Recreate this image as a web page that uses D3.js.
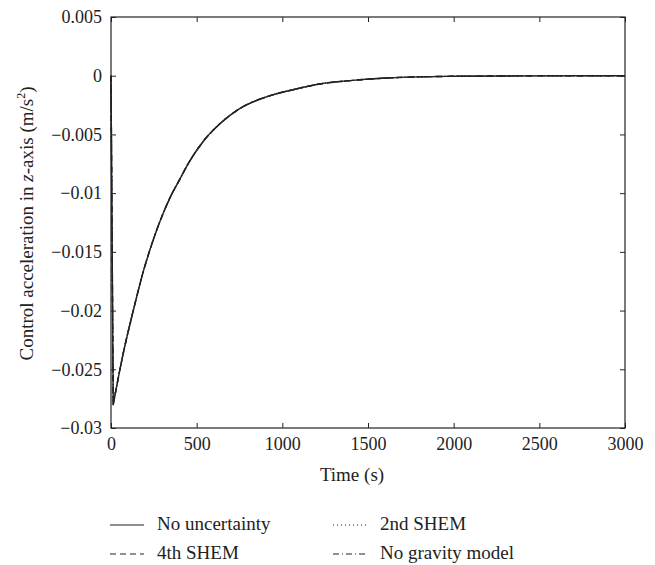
<!DOCTYPE html>
<html>
<head>
<meta charset="utf-8">
<script src="https://cdn.jsdelivr.net/npm/d3@7/dist/d3.min.js"></script>
<style>
  html, body { margin: 0; padding: 0; background: #fff; }
  svg { display: block; }
</style>
</head>
<body>
<svg id="chart" width="655" height="565"></svg>
<script>
// ---- data ----
const timeS = [0, 13, 72, 130, 188, 246, 305, 344, 402, 450, 538, 635, 751, 907, 1081, 1217, 1411, 1605, 1800, 2000, 2500, 3000];
const noUncertainty = [0, -0.0280, -0.0236, -0.0200, -0.0167, -0.0140, -0.0117, -0.0104, -0.0088, -0.0075, -0.0056, -0.0041, -0.0028, -0.0018, -0.00113, -0.00071, -0.0004, -0.0002, -0.0001, -0.00005, -0.00001, 0];
const shem2 = [0, -0.0280, -0.0236, -0.0200, -0.0167, -0.0140, -0.0117, -0.0104, -0.0088, -0.0075, -0.0056, -0.0041, -0.0028, -0.0018, -0.00113, -0.00071, -0.0004, -0.0002, -0.0001, -0.00005, -0.00001, 0];
const shem4 = [0, -0.0280, -0.0236, -0.0200, -0.0167, -0.0140, -0.0117, -0.0104, -0.0088, -0.0075, -0.0056, -0.0041, -0.0028, -0.0018, -0.00113, -0.00071, -0.0004, -0.0002, -0.0001, -0.00005, -0.00001, 0];
const noGravity = [0, -0.0280, -0.0236, -0.0200, -0.0167, -0.0140, -0.0117, -0.0104, -0.0088, -0.0075, -0.0056, -0.0041, -0.0028, -0.0018, -0.00113, -0.00071, -0.0004, -0.0002, -0.0001, -0.00005, -0.00001, 0];
const xTicks = [0, 500, 1000, 1500, 2000, 2500, 3000];
const yTicks = [0.005, 0, -0.005, -0.01, -0.015, -0.02, -0.025, -0.03];
const seriesNames = ["No uncertainty", "2nd SHEM", "4th SHEM", "No gravity model"];

// ---- layout ----
const FONT = "'Liberation Serif', 'DejaVu Serif', serif";
const INK = "#222";
const svg = d3.select("#chart");
const L = 111, R = 625, T = 17, B = 428;
const x = d3.scaleLinear().domain([0, 3000]).range([L, R]);
const y = d3.scaleLinear().domain([-0.03, 0.005]).range([B, T]);

const fmt = v => (v < 0 ? "\u2212" : "") + String(Math.abs(v));

// axes (inward ticks)
const tickLen = 5;
function styleAxis(g) {
  g.attr("font-family", FONT).attr("font-size", 18);
  g.select(".domain").remove();
  g.selectAll(".tick line").attr("stroke", INK);
  g.selectAll(".tick text").attr("fill", INK);
}
svg.append("g").attr("transform", `translate(0,${B})`)
  .call(d3.axisBottom(x).tickValues(xTicks).tickSize(-tickLen).tickPadding(9).tickFormat(d => String(d)))
  .call(styleAxis);
svg.append("g").attr("transform", `translate(0,${T})`)
  .call(d3.axisTop(x).tickValues(xTicks).tickSize(-tickLen).tickFormat(""))
  .call(styleAxis);
svg.append("g").attr("transform", `translate(${L},0)`)
  .call(d3.axisLeft(y).tickValues(yTicks).tickSize(-tickLen).tickPadding(9).tickFormat(fmt))
  .call(styleAxis);
svg.append("g").attr("transform", `translate(${R},0)`)
  .call(d3.axisRight(y).tickValues(yTicks).tickSize(-tickLen).tickFormat(""))
  .call(styleAxis);

// frame
svg.append("rect").attr("x", L).attr("y", T).attr("width", R - L).attr("height", B - T)
  .attr("fill", "none").attr("stroke", INK).attr("stroke-width", 1.2);

// lines: straight drop from t=0 to the minimum, smooth recovery afterwards
const styles = [
  { data: noUncertainty, dash: null },
  { data: shem2, dash: "1,3" },
  { data: shem4, dash: "6,4" },
  { data: noGravity, dash: "6,3,1,3" }
];
const smooth = d3.line().x(d => x(d[0])).y(d => y(d[1])).curve(d3.curveMonotoneX);
styles.forEach(s => {
  const pts = timeS.map((t, i) => [t, s.data[i]]);
  const tail = smooth(pts.slice(1));
  const d = `M${x(pts[0][0])},${y(pts[0][1])}L` + tail.slice(1);
  svg.append("path")
    .attr("d", d)
    .attr("fill", "none")
    .attr("stroke", INK)
    .attr("stroke-width", 1.4)
    .attr("stroke-linejoin", "round")
    .attr("stroke-dasharray", s.dash);
});

// axis labels
svg.append("text").attr("x", 352).attr("y", 481).attr("text-anchor", "middle")
  .attr("font-family", FONT).attr("fill", INK)
  .attr("font-size", 19).text("Time (s)");
const yl = svg.append("text").attr("transform", `translate(33,${(T + B) / 2 + 1}) rotate(-90)`)
  .attr("text-anchor", "middle").attr("font-size", 19)
  .attr("font-family", FONT).attr("fill", INK);
yl.append("tspan").text("Control acceleration in ");
yl.append("tspan").attr("font-style", "italic").text("z");
yl.append("tspan").text("-axis (m/s");
yl.append("tspan").attr("font-size", 12).attr("dy", -8).text("2");
yl.append("tspan").attr("dy", 8).text(")");

// legend
const legend = [
  { name: seriesNames[0], dash: null, lx: 110, ty: 530 },
  { name: seriesNames[1], dash: "1,3", lx: 333, ty: 530 },
  { name: seriesNames[2], dash: "6,4", lx: 110, ty: 559 },
  { name: seriesNames[3], dash: "6,3,1,3", lx: 333, ty: 559 }
];
legend.forEach(l => {
  svg.append("line").attr("x1", l.lx).attr("x2", l.lx + 34)
    .attr("y1", l.ty - 5).attr("y2", l.ty - 5)
    .attr("stroke", INK).attr("stroke-width", 1.2).attr("stroke-dasharray", l.dash);
  svg.append("text").attr("x", l.lx + 47).attr("y", l.ty)
    .attr("font-family", FONT).attr("fill", INK)
    .attr("font-size", 19).text(l.name);
});
</script>
</body>
</html>
